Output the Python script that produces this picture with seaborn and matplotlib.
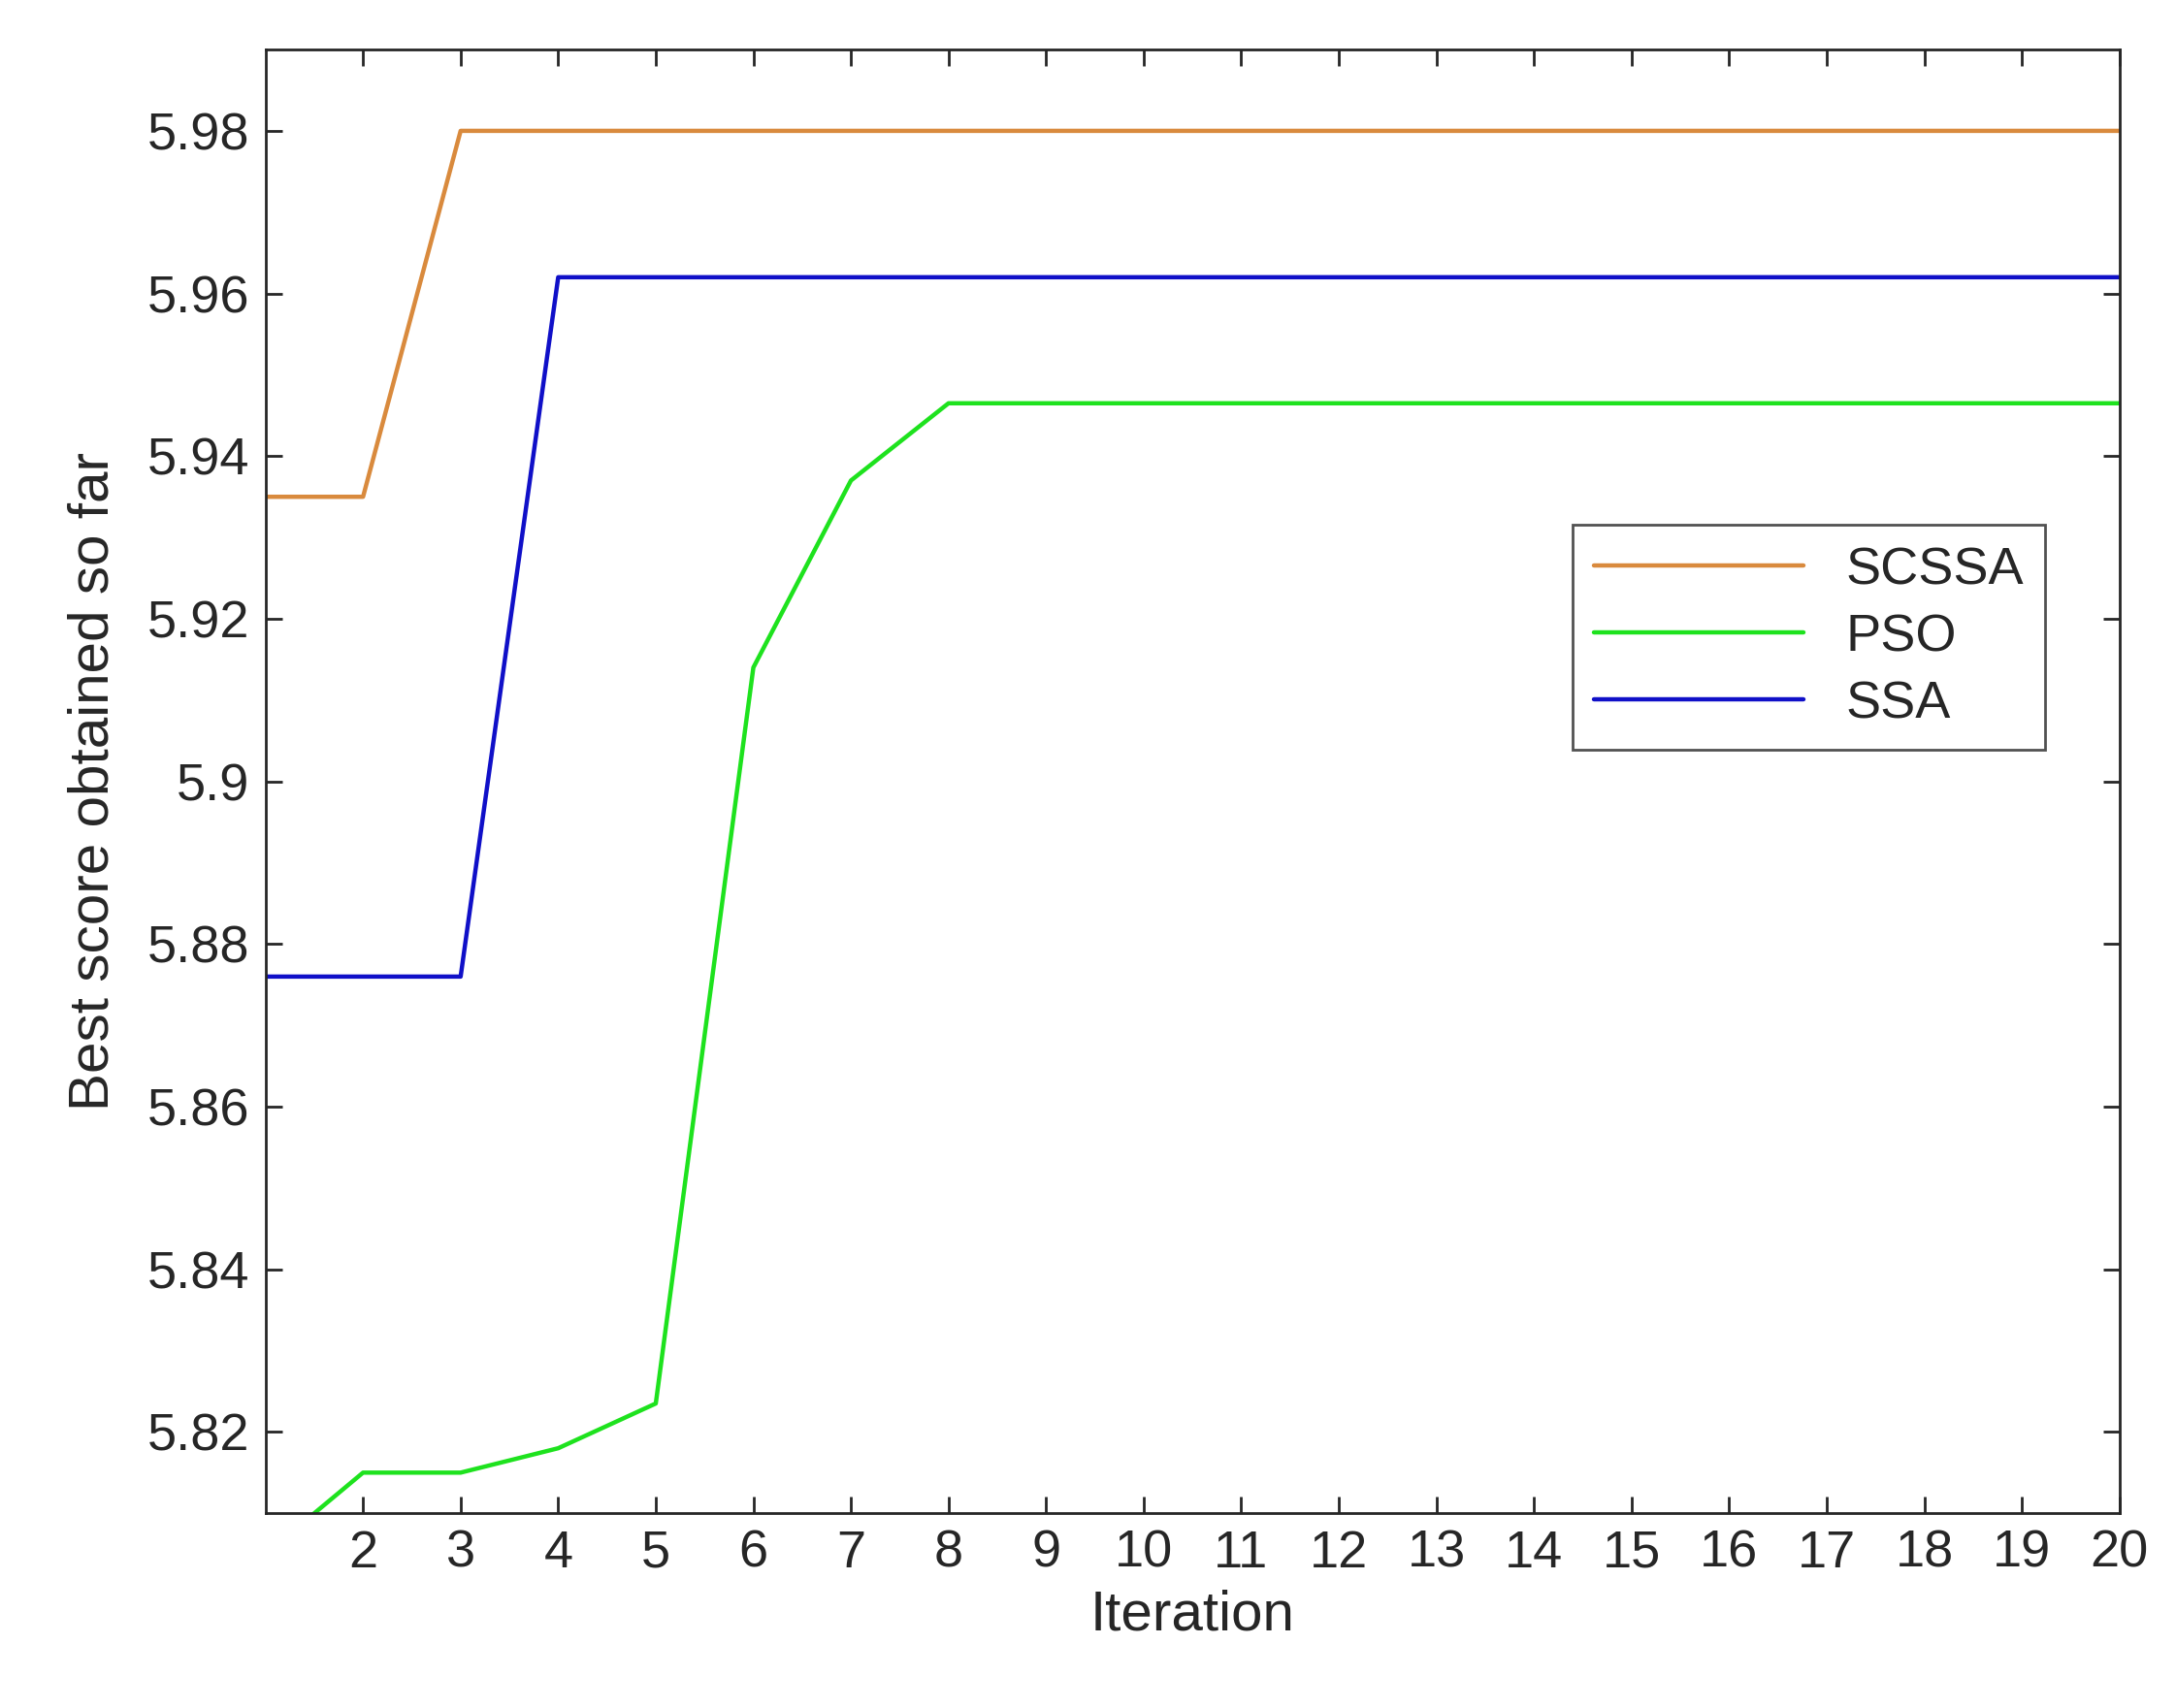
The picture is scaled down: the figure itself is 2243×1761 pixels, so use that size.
import pandas as pd
import matplotlib.pyplot as plt
import seaborn as sns

sns.set_theme(style="white")
plt.rcParams['font.family'] = ['Arial', 'Liberation Sans', 'DejaVu Sans']

iterations = list(range(1, 21))
scssa = [5.935, 5.935, 5.980] + [5.980] * 17
pso = [5.805, 5.815, 5.815, 5.818, 5.8235, 5.914, 5.937, 5.9465] + [5.9465] * 12
ssa = [5.876, 5.876, 5.876, 5.962] + [5.962] * 16

df = pd.DataFrame({
    'Iteration': iterations * 3,
    'score': scssa + pso + ssa,
    'algo': ['SCSSA'] * 20 + ['PSO'] * 20 + ['SSA'] * 20,
})
palette = {'SCSSA': '#D98A3D', 'PSO': '#1EE21E', 'SSA': '#1010C8'}

fig = plt.figure(figsize=(11.215, 8.805), dpi=200)
ax = fig.add_axes([0.122, 0.114, 0.852, 0.857])
sns.lineplot(data=df, x='Iteration', y='score', hue='algo', palette=palette,
             linewidth=1.6, ax=ax)

ax.set_xlim(1, 20)
ax.set_ylim(5.81, 5.99)
ax.set_xticks(range(2, 21))
ax.set_yticks([5.82, 5.84, 5.86, 5.88, 5.90, 5.92, 5.94, 5.96, 5.98])
ax.set_yticklabels(['5.82', '5.84', '5.86', '5.88', '5.9', '5.92', '5.94', '5.96', '5.98'])
ax.tick_params(direction='in', length=6, width=1, labelsize=19.5, colors='#262626',
               top=True, right=True, bottom=True, left=True, pad=6)
for s in ax.spines.values():
    s.set_color('#262626')
    s.set_linewidth(1)
ax.set_xlabel('Iteration', fontsize=21, color='#262626', labelpad=4)
ax.set_ylabel('Best score obtained so far', fontsize=21, color='#262626', labelpad=10)

leg = ax.legend(loc='upper right', bbox_to_anchor=(0.974, 0.693), fontsize=19.5,
                frameon=True, fancybox=False, edgecolor='#262626',
                handlelength=4, borderpad=0.4, labelspacing=0.35)
leg.get_frame().set_linewidth(1)

fig.savefig('out.png', dpi=200)
